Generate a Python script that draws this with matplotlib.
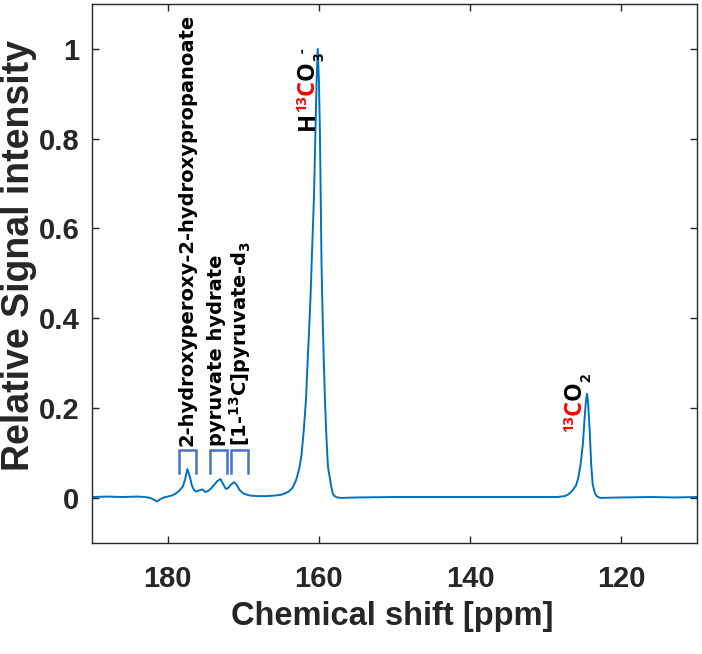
import numpy as np
import matplotlib
matplotlib.use('Agg')
import matplotlib.pyplot as plt

# spectrum: chemical shift [ppm] and relative intensity
ppm = [190.0, 188.0, 186.0, 184.0, 183.0, 182.3, 181.8, 181.4, 181.0, 180.5,
       180.0, 179.5, 179.0, 178.5, 178.0, 177.7, 177.4, 177.1, 176.8, 176.5,
       176.2, 175.8, 175.4, 175.0, 174.6, 174.2, 173.8, 173.4, 173.0, 172.7,
       172.3, 172.0, 171.6, 171.2, 170.9, 170.5, 170.0, 169.5, 169.0, 168.0,
       167.0, 166.0, 165.0, 164.5, 164.0, 163.5, 163.0, 162.6, 162.3, 162.0,
       161.7, 161.5, 161.3, 161.1, 160.9, 160.65, 160.45, 160.3, 160.15, 160.0,
       159.87, 159.75, 159.65, 159.5, 159.34, 159.2, 159.04, 158.9, 158.8, 158.7,
       158.55, 158.4, 158.2, 158.0, 157.6, 157.0, 155.0, 150.0, 145.0, 140.0,
       135.0, 130.0, 128.5, 127.5, 127.0, 126.5, 126.0, 125.7, 125.4, 125.1,
       124.9, 124.7, 124.55, 124.4, 124.2, 124.0, 123.8, 123.5, 123.2, 122.8,
       120.0, 116.0, 113.0, 110.0]
intensity = [0.002, 0.003, 0.002, 0.003, 0.002, 0.000, -0.004, -0.008, -0.003, 0.001,
             0.003, 0.005, 0.009, 0.015, 0.025, 0.040, 0.064, 0.050, 0.028, 0.017,
             0.014, 0.017, 0.019, 0.013, 0.016, 0.022, 0.030, 0.038, 0.042, 0.032,
             0.020, 0.022, 0.030, 0.035, 0.030, 0.018, 0.010, 0.007, 0.005, 0.004,
             0.004, 0.005, 0.007, 0.010, 0.014, 0.022, 0.040, 0.065, 0.095, 0.15,
             0.22, 0.30, 0.37, 0.45, 0.55, 0.67, 0.82, 0.93, 1.0, 0.93,
             0.82, 0.66, 0.52, 0.40, 0.30, 0.22, 0.15, 0.10, 0.07, 0.058,
             0.045, 0.028, 0.012, 0.005, 0.001, 0.000, 0.001, 0.002, 0.002, 0.002,
             0.002, 0.002, 0.002, 0.004, 0.008, 0.016, 0.028, 0.045, 0.075, 0.12,
             0.17, 0.215, 0.232, 0.21, 0.15, 0.075, 0.03, 0.01, 0.003, 0.0,
             0.001, 0.002, 0.001, 0.002]

# small-peak brackets (ppm edges)
bracket_left = [178.55, 174.4, 171.6]
bracket_right = [176.3, 172.2, 169.4]
bracket_top = 0.106
bracket_bottom = 0.055

peak_names = ['2-hydroxyperoxy-2-hydroxypropanoate', 'pyruvate hydrate',
              r'[1-$^{13}$C]pyruvate-d$_3$']
name_ppm = [177.4, 173.55, 170.4]

xticks = [180, 160, 140, 120]
yticks = [0, 0.2, 0.4, 0.6, 0.8, 1]

FONT = 'Open Sans'
NAME_FONT = 'DejaVu Sans'
plt.rcParams['mathtext.fontset'] = 'custom'
plt.rcParams['mathtext.rm'] = NAME_FONT + ':bold'
plt.rcParams['mathtext.it'] = NAME_FONT + ':bold'
plt.rcParams['mathtext.bf'] = NAME_FONT + ':bold'
plt.rcParams['mathtext.default'] = 'rm'

fig = plt.figure(figsize=(7.02, 6.54), dpi=100)
ax = fig.add_axes([0.131, 0.170, 0.862, 0.824])

ax.plot(ppm, intensity, color='#0072BD', lw=1.4)

for l, r in zip(bracket_left, bracket_right):
    ax.plot([l, l, r, r], [bracket_bottom, bracket_top, bracket_top, bracket_bottom],
            color='#4472C4', lw=1.8, solid_joinstyle='miter')

name_size = 14
for name, x in zip(peak_names, name_ppm):
    ax.text(x, 0.115, name, rotation=90, ha='center', va='bottom',
            fontsize=name_size, fontweight='bold', family=NAME_FONT, color='black')

chem_size = 17


def chem_label(x, y, base, before, after):
    # base glyph placed first, others stacked along the rotated text direction
    kw = dict(rotation=90, family=FONT, fontweight='bold')
    small = chem_size * 0.62
    first = ax.text(x, y, base[0], color=base[1], ha='center', va='bottom',
                    fontsize=chem_size, **kw)
    for txt, col, kind in before:
        ax.annotate(txt, xy=(0, 0), xycoords=first, ha='left', va='top',
                    color=col, fontsize=small, **kw)
    prev = first
    for txt, col, kind in after:
        if kind == 'sup':
            a = ax.annotate(txt, xy=(0, 1), xycoords=(first, prev), ha='left', va='bottom',
                            color=col, fontsize=small, **kw)
        elif kind == 'sub':
            a = ax.annotate(txt, xy=(1, 1), xycoords=(first, prev), ha='center', va='bottom',
                            color=col, fontsize=small, **kw)
        else:
            a = ax.annotate(txt, xy=(0.5, 1), xycoords=(first, prev), ha='center', va='bottom',
                            color=col, fontsize=chem_size, **kw)
        prev = a


chem_label(161.5, 0.82, ('H', 'black'), [],
           [('13', 'red', 'sup'), ('C', 'red', 'n'), ('O', 'black', 'n'),
            ('3', 'black', 'sub'), ('-', 'black', 'sup')])
chem_label(126.2, 0.184, ('C', 'red'), [('13', 'red', 'sup')],
           [('O', 'black', 'n'), ('2', 'black', 'sub')])

ax.set_xlim(190, 110)
ax.set_ylim(-0.1, 1.1)
ax.set_xticks(xticks)
ax.set_xticklabels([str(t) for t in xticks])
ax.set_yticks(yticks)
ax.set_yticklabels(['0', '0.2', '0.4', '0.6', '0.8', '1'])

dark = '#262626'
for s in ax.spines.values():
    s.set_color(dark)
    s.set_linewidth(1.0)
ax.tick_params(direction='in', top=True, right=True, length=5, width=1.0, colors=dark)
ax.tick_params(axis='x', pad=16)
ax.tick_params(axis='y', pad=9)
for t in ax.get_xticklabels() + ax.get_yticklabels():
    t.set_family('Liberation Sans')
    t.set_fontweight('bold')
    t.set_fontsize(21)
    t.set_color(dark)

ax.set_xlabel('Chemical shift [ppm]', family='Liberation Sans', fontweight='bold',
              fontsize=23.5, color=dark)
ax.set_ylabel('Relative Signal intensity', family='Liberation Sans', fontweight='bold',
              fontsize=27, color=dark)
ax.xaxis.set_label_coords(0.497, -0.108)
ax.yaxis.set_label_coords(-0.091, 0.534)

fig.savefig('out.png', dpi=100)
